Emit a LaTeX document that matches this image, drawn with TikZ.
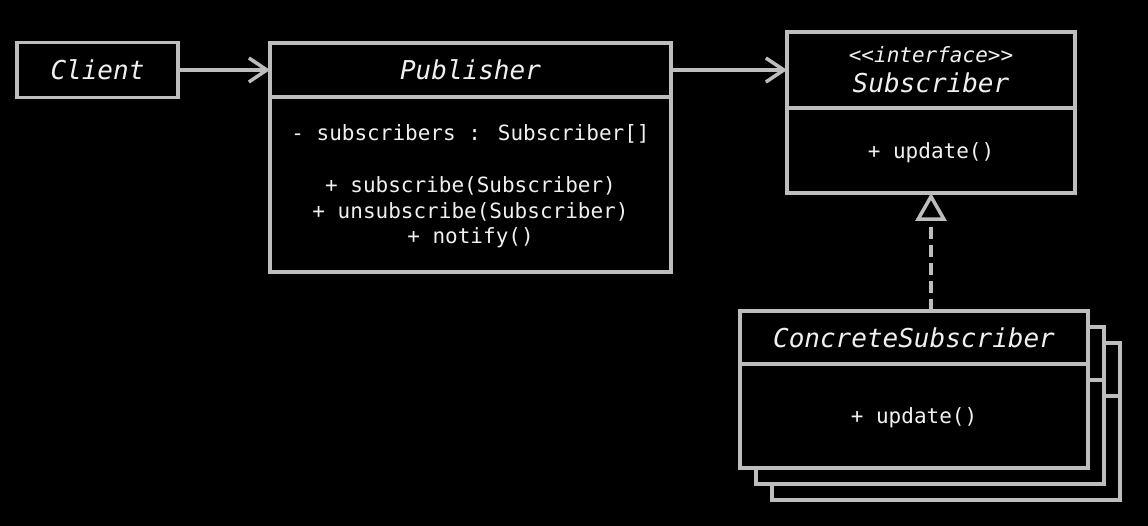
\documentclass[tikz,border=0pt]{standalone}
\usepackage{fontspec}
\newfontfamily\umlfont{DejaVu Sans Mono}
\usepackage{xcolor}
\usetikzlibrary{arrows, arrows.meta}
\usetikzlibrary{positioning}
\usetikzlibrary{calc}
\definecolor{umlline}{HTML}{BDBDBD}
\definecolor{umltext}{HTML}{F0F0F0}

\begin{document}
\begin{tikzpicture}[x=1pt, y=-1pt,
		box/.style={draw=umlline, line width=3.5pt, fill=black, text=umltext, inner sep=0pt, outer sep=0pt},
		title/.style={font=\umlfont\itshape\fontsize{26}{30}\selectfont, align=center},
		body/.style={font=\umlfont\fontsize{21}{25.5}\selectfont, align=center, text depth=0pt},
		assoc/.style={umlline, line width=3.5pt, -{Straight Barb[length=18pt,width=24pt]}},
		realize/.style={umlline, line width=3.5pt, dash pattern=on 12pt off 6pt, -{Triangle[length=28pt,width=31pt,fill=black]}}]
					\fill[black] (0,0) rectangle (1148,526);
					
					% client
					\node[box, title, minimum width=161pt, minimum height=55pt] (client) at (97.5,70) {Client};
					
					% publisher
					\node[box, title, minimum width=401pt, minimum height=54pt] (pubHead) at (470.5,70) {Publisher};
					\node[box, body, minimum width=401pt, minimum height=175pt, below=0pt of pubHead] (pubBody) {- subscribers : Subscriber[]\\[26.5pt]+ subscribe(Subscriber)\\+ unsubscribe(Subscriber)\\+ notify()};
					
					% interface
					\node[box, title, minimum width=288pt, minimum height=76pt] (subHead) at (931,70) {{\fontsize{21}{24}\selectfont <{}<interface>{}>}\\Subscriber};
					\node[box, body, minimum width=288pt, minimum height=85pt, below=0pt of subHead] (subBody) {+ update()};
					
					% stacked copies
					\foreach \d in {32,16}
						\draw[box] ($(740,311)+(\d,\d)$) rectangle ++(348,157) ($(740,364)+(\d,\d)$) -- ++(348,0);
					
					% concrete subscriber
					\node[box, title, minimum width=348pt, minimum height=53pt] (concHead) at (914,337.5) {ConcreteSubscriber};
					\node[box, body, minimum width=348pt, minimum height=104pt, below=0pt of concHead] (concBody) {+ update()};
					
					% arrows
					\draw[assoc] (client.east) -- (pubHead.west);
					\draw[assoc] (pubHead.east) -- (subHead.west);
					\draw[realize] (subBody.south |- concHead.north) -- (subBody.south);
				\end{tikzpicture}
\end{document}
